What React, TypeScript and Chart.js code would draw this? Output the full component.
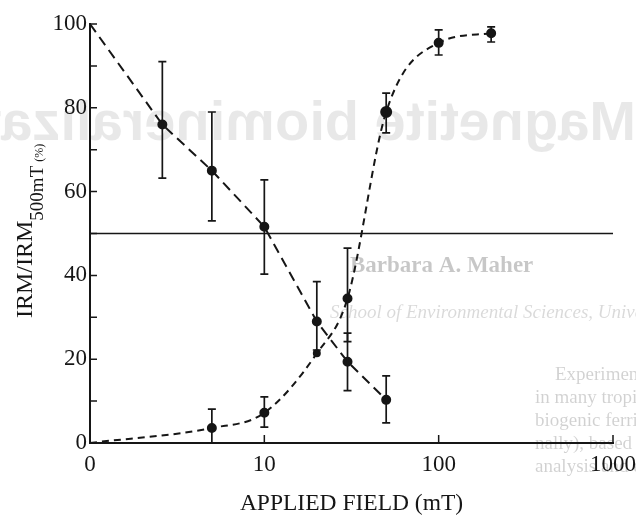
import React, { useEffect, useRef } from 'react';
import { Chart, registerables } from 'chart.js';

Chart.register(...registerables);

// ---- data ----
const xTickValues = [1, 10, 100, 1000];
const xTickLabels = ['0', '10', '100', '1000'];
const yTickValues = [0, 20, 40, 60, 80, 100];
const yMinorTickValues = [10, 20, 30, 40, 50, 60, 70, 80, 90, 100];

const decayFields = [1, 2.6, 5, 10, 20, 30, 50];
const decayValues = [100, 76, 65, 51.6, 29, 19.4, 10.3];
const decayErrHigh = [null, 91, 79, 62.8, 38.5, 26.2, 16];
const decayErrLow = [null, 63.2, 53, 40.3, 22.2, 12.5, 4.8];

const acquisitionFields = [1, 5, 10, 20, 30, 50, 100, 200];
const acquisitionValues = [0, 3.6, 7.2, 21.4, 34.5, 79, 95.5, 97.8];
const acquisitionErrHigh = [null, 8.1, 11, null, 46.5, 83.5, 98.6, 99.3];
const acquisitionErrLow = [null, 0, 3.8, null, 24.2, 74, 92.6, 95.7];

const halfLevel = 50;
const fieldMin = 1;
const fieldMax = 1000;

const xTitle = 'APPLIED FIELD (mT)';
const yTitleMain = 'IRM/IRM';
const yTitleSub = '500mT';
const yTitleUnit = '(%)';

const ghostTitle = 'Magnetite biomineralization';
const ghostAuthor = 'Barbara A. Maher';
const ghostAffiliation = 'School of Environmental Sciences, University of East Anglia, Norwich';
const ghostParagraph = [
  'Experimental evidence exists for magnetoreception',
  'in many tropical countries. This preliminary study',
  'biogenic ferrimagnets (magnetite) in two species',
  'nally), based on magnetic measurements of whole',
  'analysis and electron microscopy of magnetically',
];

const SERIF = '"Liberation Serif", "DejaVu Serif", serif';
const INK = '#161616';

const ghostPlugin = {
  id: 'ghost',
  beforeDraw(chart: any) {
    const ctx = chart.ctx as CanvasRenderingContext2D;
    ctx.save();
    ctx.fillStyle = '#ffffff';
    ctx.fillRect(0, 0, chart.width, chart.height);
    // mirrored show-through title
    ctx.save();
    ctx.translate(chart.width, 0);
    ctx.scale(-1, 1);
    ctx.fillStyle = 'rgba(0,0,0,0.09)';
    ctx.font = 'bold 56px "Liberation Sans", Arial, sans-serif';
    ctx.textBaseline = 'alphabetic';
    ctx.textAlign = 'left';
    ctx.fillText(ghostTitle, 0, 140);
    ctx.restore();
    ctx.fillStyle = 'rgba(0,0,0,0.22)';
    ctx.font = `bold 23px ${SERIF}`;
    ctx.fillText(ghostAuthor, 350, 272);
    ctx.fillStyle = 'rgba(0,0,0,0.15)';
    ctx.font = `italic 19px ${SERIF}`;
    ctx.fillText(ghostAffiliation, 330, 318);
    ctx.fillStyle = 'rgba(0,0,0,0.18)';
    ctx.font = `19px ${SERIF}`;
    ghostParagraph.forEach((line, i) => {
      ctx.fillText(line, i === 0 ? 555 : 535, 380 + i * 23);
    });
    ctx.restore();
  },
};

const decorPlugin = {
  id: 'decor',
  afterDatasetsDraw(chart: any) {
    const ctx = chart.ctx as CanvasRenderingContext2D;
    const xs = chart.scales.x;
    const ys = chart.scales.y;
    const area = chart.chartArea;
    ctx.save();
    ctx.strokeStyle = INK;
    ctx.lineCap = 'butt';

    // error bars
    ctx.lineWidth = 1.7;
    const drawBars = (fields: number[], hi: (number | null)[], lo: (number | null)[]) => {
      fields.forEach((f, i) => {
        const h = hi[i];
        const l = lo[i];
        if (h == null || l == null) return;
        const px = xs.getPixelForValue(f);
        const pt = ys.getPixelForValue(h);
        const pb = ys.getPixelForValue(l);
        ctx.beginPath();
        ctx.moveTo(px, pt);
        ctx.lineTo(px, pb);
        ctx.moveTo(px - 4, pt);
        ctx.lineTo(px + 4, pt);
        ctx.moveTo(px - 4, pb);
        ctx.lineTo(px + 4, pb);
        ctx.stroke();
      });
    };
    drawBars(decayFields, decayErrHigh, decayErrLow);
    drawBars(acquisitionFields, acquisitionErrHigh, acquisitionErrLow);

    // inward tick marks
    ctx.lineWidth = 1.5;
    ctx.beginPath();
    yMinorTickValues.forEach((v) => {
      const py = ys.getPixelForValue(v);
      ctx.moveTo(area.left, py);
      ctx.lineTo(area.left + 7, py);
    });
    xTickValues.slice(1).forEach((v) => {
      const px = xs.getPixelForValue(v);
      ctx.moveTo(px, area.bottom);
      ctx.lineTo(px, area.bottom - 8);
    });
    ctx.stroke();

    // y-axis title with subscript
    ctx.fillStyle = INK;
    ctx.translate(32, 318);
    ctx.rotate(-Math.PI / 2);
    ctx.textAlign = 'left';
    ctx.textBaseline = 'alphabetic';
    ctx.font = `24px ${SERIF}`;
    ctx.fillText(yTitleMain, 0, 0);
    const w1 = ctx.measureText(yTitleMain).width;
    ctx.font = `19px ${SERIF}`;
    ctx.fillText(yTitleSub, w1, 11);
    const w2 = ctx.measureText(yTitleSub).width + 4;
    ctx.font = `12px ${SERIF}`;
    ctx.fillText(yTitleUnit, w1 + w2, 11);
    ctx.restore();
  },
};

export default function App() {
  const canvasRef = useRef<HTMLCanvasElement | null>(null);

  useEffect(() => {
    const canvas = canvasRef.current;
    if (!canvas) return;
    const chart = new Chart(canvas, {
      type: 'line',
      data: {
        datasets: [
          {
            label: 'half',
            data: [
              { x: fieldMin, y: halfLevel },
              { x: fieldMax, y: halfLevel },
            ],
            borderColor: INK,
            borderWidth: 1.5,
            pointRadius: 0,
            tension: 0,
          },
          {
            label: 'decay',
            data: decayFields.map((f, i) => ({ x: f, y: decayValues[i] })),
            borderColor: INK,
            borderWidth: 2,
            borderDash: [10, 6],
            tension: 0,
            pointRadius: decayFields.map((_, i) => (i === 0 ? 0 : 4)),
            pointBackgroundColor: INK,
            pointBorderColor: INK,
            clip: 4,
          },
          {
            label: 'acquisition',
            data: acquisitionFields.map((f, i) => ({ x: f, y: acquisitionValues[i] })),
            borderColor: INK,
            borderWidth: 2,
            borderDash: [7, 5],
            cubicInterpolationMode: 'monotone',
            pointRadius: acquisitionFields.map((_, i) => (i === 0 ? 0 : i === 3 ? 3 : i === 5 ? 5 : 4)),
            pointBackgroundColor: INK,
            pointBorderColor: INK,
            clip: 4,
          },
        ],
      },
      options: {
        responsive: false,
        animation: false,
        events: [],
        layout: { padding: { top: 24, right: 23, left: 0, bottom: 0 } },
        plugins: {
          legend: { display: false },
          tooltip: { enabled: false },
        },
        scales: {
          x: {
            type: 'logarithmic',
            position: 'bottom',
            min: fieldMin,
            max: fieldMax,
            afterBuildTicks: (scale: any) => {
              scale.ticks = xTickValues.map((v) => ({ value: v }));
            },
            afterFit: (scale: any) => {
              scale.height = 74;
              scale.paddingLeft = 0;
              scale.paddingRight = 0;
            },
            grid: { display: false, drawTicks: false },
            border: { display: true, color: INK, width: 2 },
            ticks: {
              autoSkip: false,
              maxRotation: 0,
              padding: 8,
              color: INK,
              font: { family: SERIF, size: 23 },
              callback: (value: any) => {
                const idx = xTickValues.indexOf(Number(value));
                return idx >= 0 ? xTickLabels[idx] : '';
              },
            },
            title: {
              display: true,
              text: xTitle,
              color: INK,
              font: { family: SERIF, size: 23.5, lineHeight: 1.1 },
              padding: 0,
            },
          },
          y: {
            type: 'linear',
            min: 0,
            max: 100,
            afterBuildTicks: (scale: any) => {
              scale.ticks = yTickValues.map((v) => ({ value: v }));
            },
            afterFit: (scale: any) => {
              scale.width = 90;
              scale.paddingTop = 0;
              scale.paddingBottom = 0;
            },
            grid: { display: false, drawTicks: false },
            border: { display: true, color: INK, width: 2 },
            ticks: {
              padding: 3,
              color: INK,
              font: { family: SERIF, size: 23 },
              callback: (value: any) => String(value),
            },
          },
        },
      },
      plugins: [ghostPlugin, decorPlugin],
    } as any);
    return () => chart.destroy();
  }, []);

  return (
    <div style={{ position: 'absolute', left: 0, top: 0, width: 636, height: 517, background: '#fff' }}>
      <canvas ref={canvasRef} width={636} height={517} style={{ display: 'block' }} />
    </div>
  );
}
